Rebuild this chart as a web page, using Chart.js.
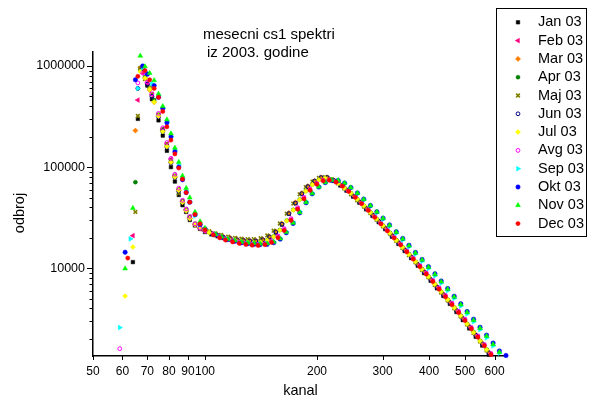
<!doctype html>
<html lang="sr">
  <head>
    <meta charset="utf-8">
    <title>mesecni cs1 spektri</title>
    <style>
      * {
        margin: 0;
        padding: 0;
      }
      body {
        background: #fff;
      }
      .chartBox {
        width: 589px;
        height: 405px;
      }
    </style>
  </head>
  <body>
    <div class="chartBox">
      <canvas id="myChart" width="589" height="405"></canvas>
    </div>
    <script src="https://cdn.jsdelivr.net/npm/chart.js/dist/chart.umd.min.js"></script>
    <script>
    // kanali (x): nizak deo je zajednicki, rep ima cetiri pomerene mreze
    const kanalNisko = [59,61,62,63,64,65,66,67,68,69,70,71,72,73,75,77,79,81,83,85,87,89,91,94,97,100];
    const kanalA = [104,108,112,117,122,127,132,137,143,149,155,161,168,175,182,189,197,205,213,222,
      231,240,250,260,271,282,293,305,318,331,344,358,373,388,404,420,437,455,474,493,513,534,556,579,602,627];
    const kanalA2 = [102.6,106.6,110.5,115.4,120.4,125.3,130.2,135.2,141.1,147.0,152.9,158.9,165.8,172.7,179.6,186.5,194.4,202.3,210.2,219.0,
      227.9,236.8,246.7,256.5,267.4,278.3,289.1,300.9,313.8,326.6,339.4,353.2,368.0,382.8,398.6,414.4,431.2,448.9,467.7,486.4,506.2,526.9,548.6,571.3,594.0,618.7];
    const kanalB = [105.4,109.5,113.5,118.6,123.6,128.7,133.8,138.8,144.9,151.0,157.1,163.2,170.3,177.4,184.5,191.6,199.7,207.8,215.9,225.0,
      234.1,243.2,253.4,263.5,274.7,285.8,297.0,309.1,322.3,335.5,348.6,362.8,378.0,393.2,409.5,425.7,442.9,461.1,480.4,499.7,519.9,541.2,563.5,586.8,610.1,635.5];
    const kanalC = [106.8,110.9,115.0,120.2,125.3,130.4,135.6,140.7,146.9,153.0,159.2,165.3,172.5,179.7,186.9,194.1,202.3,210.5,218.8,228.0,
      237.2,246.5,256.8,267.0,278.3,289.6,300.9,313.2,326.6,339.9,353.3,367.7,383.1,398.5,414.9,431.3,448.8,467.3,486.8,506.3,526.9,548.4,571.0,594.6,618.3,643.9];

    // odbroj po mesecima (null = nema tacke)
    const jan = [null,null,null,null,11500,null,300000,null,880000,null,640000,null,470000,null,290000,205000,145000,100000,72000,53000,42000,36000,30000,26500,24500,22800,
      21600,20700,19900,19200,18700,18400,18200,18200,18700,20000,22500,27000,34500,44000,54500,64000,72500,78500,78500,73000,
      65800,58500,51000,44400,38200,32900,28500,24300,20500,17400,14800,12600,10600,8950,7520,6330,5320,4440,3690,3070,
      2540,2100,1720,1400,null,null];
    const feb = [null,null,null,null,21000,null,460000,null,850000,null,680000,null,520000,null,320000,240000,170000,120000,82000,60000,46000,38000,32000,27000,24500,23200,
      21500,20200,19200,18400,17800,17400,17100,17000,17300,18400,20500,24200,30400,39100,49300,59500,68100,73300,74300,71100,
      65100,57900,50600,43700,37500,32100,27600,23700,20200,17200,14700,12500,10500,8880,7480,6310,5300,4430,3700,3080,
      2550,2110,1730,1410,null,null];
    const mar = [null,null,null,null,null,230000,null,960000,null,760000,null,580000,null,440000,320000,230000,160000,112000,80000,59000,45000,37000,31000,27000,25000,23500,
      22300,21300,20500,19800,19300,19000,18800,18800,19300,20600,23100,27700,35200,44800,55300,64800,73300,79300,79200,74000,
      66900,59700,52200,45600,39300,33900,29400,25100,21300,18100,15400,13100,11000,9300,7820,6590,5540,4630,3860,3220,
      2660,2200,1810,1480,null,null];
    const apr = [null,null,null,null,null,71000,null,920000,null,780000,null,600000,null,460000,330000,235000,165000,115000,82000,60000,46000,38000,32000,27500,25000,23600,
      22600,21400,20400,19600,19000,18500,18200,18000,18200,19000,20600,23900,29600,37800,47700,58000,67400,74800,77700,75300,
      69600,62600,55200,48100,41500,35700,30800,26400,22400,19000,16200,13800,11600,9820,8270,6960,5850,4900,4080,3400,
      2820,2340,1920,1570,null,null];
    const maj = [null,null,null,null,null,36000,320000,950000,null,740000,null,610000,530000,null,330000,230000,170000,115000,82000,55000,45000,38000,32000,27500,25500,24000,
      23200,22100,21300,20500,20000,19600,19400,19400,19800,21100,23500,27700,34600,43600,53800,63400,71700,78100,79700,75800,
      68900,61400,53900,47000,40700,35000,30200,25900,22000,18700,15900,13500,11400,9650,8130,6840,5750,4820,4020,3350,
      2780,2290,1890,1540,null,null];
    const jun = [null,null,null,null,null,null,600000,null,940000,null,660000,null,500000,null,315000,225000,158000,110000,79000,58000,45000,37000,31000,27000,24800,23400,
      22100,21100,20300,19600,19100,18800,18600,18600,19100,20400,22800,27200,34700,44100,54600,64200,72800,78800,78800,73600,
      66600,59400,51900,45300,39000,33600,29100,24800,21000,17900,15200,12950,10900,9200,7750,6530,5490,4590,3820,3180,
      2640,2180,1790,1460,null,null];
    const jul = [null,5300,null,null,16200,null,null,880000,null,760000,null,590000,null,440000,320000,225000,160000,112000,80000,59000,45000,37000,31000,27000,25000,23500,
      22500,21300,20300,19500,18900,18400,18100,17900,18100,18900,20500,23800,29400,37600,47500,57700,67100,74500,77500,75100,
      69300,62300,55000,48000,41400,35600,30700,26300,22300,18900,16100,13700,11600,9780,8240,6940,5840,4890,4070,3390,
      2810,2320,1910,1560,null,null];
    const avg = [1600,null,null,null,null,null,680000,null,850000,null,690000,null,530000,null,340000,245000,175000,122000,85000,62000,47000,38500,32500,27500,25000,23500,
      21800,20500,19500,18700,18100,17700,17400,17300,17600,18700,20800,24600,30900,39700,50200,60300,68900,74000,74800,71400,
      65400,58200,50900,44000,37800,32400,27900,23900,20400,17400,14840,12640,10640,8970,7570,6390,5370,4490,3750,3120,
      2580,2140,1750,1430,null,null];
    const sep = [2590,null,null,19500,null,null,600000,null,960000,null,850000,null,670000,null,510000,380000,280000,200000,147000,105000,78000,58000,45000,33000,27000,24500,
      21350,20160,19260,18530,17960,17600,17370,17230,17400,18160,19810,23080,28660,36430,45610,55460,64220,70620,74020,73260,
      68790,61970,54560,47280,40770,35290,30410,25960,22170,19010,16260,13800,11730,9940,8430,7130,6010,5040,4230,3540,
      2960,2470,2050,1710,1450,null];
    const okt = [null,14400,null,null,null,730000,null,null,1000000,null,830000,null,null,640000,490000,380000,275000,200000,142000,100000,75000,56000,45000,34000,27000,24500,
      21460,20190,19200,18430,17870,17500,17270,17130,17230,17900,19380,22400,27730,35300,44390,54380,63410,70250,74090,73660,
      69490,62840,55530,48280,41770,36260,31320,26790,22940,19720,16870,14360,12230,10380,8810,7470,6300,5290,4450,3730,
      3130,2610,2180,1820,1520,1370];
    const nov = [null,9930,null,null,39300,null,null,1260000,null,990000,null,850000,null,720000,530000,400000,295000,215000,155000,112000,82000,62000,50000,36000,29000,25000,
      21660,20390,19460,18730,18160,17800,17570,17430,17530,18190,19680,22700,28030,35670,44860,54880,63900,70740,74460,73890,
      69560,62770,55360,48090,41570,36060,31120,26590,22740,19520,16700,14210,12080,10250,8700,7360,6210,5220,4380,3670,
      3070,2560,2130,1770,1480,null];
    const dec = [null,null,12600,null,null,null,790000,null,null,900000,null,730000,null,600000,490000,355000,250000,185000,135000,98000,76000,56000,45000,34000,27500,24000,
      21300,20000,19000,18200,17600,17200,16900,16800,17100,18000,20000,23600,29700,38300,48500,58900,67700,73100,74200,71000,
      64700,57500,50300,43500,37300,31900,27400,23400,19900,17000,14500,12300,10350,8740,7370,6200,5210,4360,3640,3040,
      2520,2080,1710,1400,null,null];

    const meseci = ['Jan 03','Feb 03','Mar 03','Apr 03','Maj 03','Jun 03','Jul 03','Avg 03','Sep 03','Okt 03','Nov 03','Dec 03'];
    const serije = [jan, feb, mar, apr, maj, jun, jul, avg, sep, okt, nov, dec];
    const mreze = [kanalA, kanalB, kanalA, kanalA2, kanalA2, kanalA, kanalA2, kanalB, kanalC, kanalC, kanalC, kanalB];

    const xTicks = [50, 60, 70, 80, 90, 100, 200, 300, 400, 500, 600];
    const yTicks = [2000,3000,4000,5000,6000,7000,8000,9000,10000,20000,30000,40000,50000,60000,70000,80000,90000,
      100000,200000,300000,400000,500000,600000,700000,800000,900000,1000000];
    const yLabele = [10000, 100000, 1000000];

    // markeri
    const stilovi = [
      { pointStyle: 'rect', pointRadius: 2.5, pointRotation: 0, c: '#000000', fill: true, bw: 0.5 },
      { pointStyle: 'triangle', pointRadius: 2.8, pointRotation: -90, c: '#ff0080', fill: true, bw: 0.5 },
      { pointStyle: 'rectRot', pointRadius: 2.6, pointRotation: 0, c: '#ff8000', fill: true, bw: 0.5 },
      { pointStyle: 'circle', pointRadius: 2, pointRotation: 0, c: '#008000', fill: true, bw: 0.5 },
      { pointStyle: 'crossRot', pointRadius: 2.6, pointRotation: 0, c: '#808000', fill: true, bw: 1.6 },
      { pointStyle: 'circle', pointRadius: 1.9, pointRotation: 0, c: '#000080', fill: false, bw: 1 },
      { pointStyle: 'rectRot', pointRadius: 2.5, pointRotation: 0, c: '#ffff00', fill: true, bw: 0.5 },
      { pointStyle: 'circle', pointRadius: 1.9, pointRotation: 0, c: '#ff00ff', fill: false, bw: 1 },
      { pointStyle: 'triangle', pointRadius: 2.8, pointRotation: 90, c: '#00ffff', fill: true, bw: 0.5 },
      { pointStyle: 'circle', pointRadius: 2.2, pointRotation: 0, c: '#0000ff', fill: true, bw: 0.5 },
      { pointStyle: 'triangle', pointRadius: 2.8, pointRotation: 0, c: '#00ff00', fill: true, bw: 0.5 },
      { pointStyle: 'circle', pointRadius: 2.1, pointRotation: 0, c: '#ff0000', fill: true, bw: 0.5 }
    ];

    const FONT = "'Liberation Sans', Arial, sans-serif";

    const datasets = serije.map((vals, i) => {
      const s = stilovi[i];
      const xs = kanalNisko.concat(mreze[i]);
      return {
        label: meseci[i],
        data: xs.map((x, j) => ({ x: x, y: vals[j] })).filter(p => p.y !== null),
        order: 11 - i,
        pointStyle: s.pointStyle,
        pointRadius: s.pointRadius,
        pointRotation: s.pointRotation,
        pointBackgroundColor: s.fill ? s.c : 'rgba(0,0,0,0)',
        pointBorderColor: s.c,
        pointBorderWidth: s.bw,
        clip: 3
      };
    });

    // tick markice, naslovi i legenda
    const dekor = {
      id: 'dekor',
      afterDraw: (chart) => {
        const { ctx, chartArea: { left, bottom }, scales: { x, y } } = chart;
        ctx.save();
        ctx.strokeStyle = '#000';
        ctx.lineWidth = 1;
        ctx.beginPath();
        xTicks.forEach(v => {
          const px = Math.round(x.getPixelForValue(v)) + 0.5;
          ctx.moveTo(px, bottom);
          ctx.lineTo(px, bottom + 4);
        });
        yTicks.forEach(v => {
          const py = Math.round(y.getPixelForValue(v)) + 0.5;
          const len = yLabele.includes(v) ? 6 : 3.5;
          ctx.moveTo(left - len, py);
          ctx.lineTo(left, py);
        });
        ctx.stroke();

        // naslov
        ctx.fillStyle = '#000';
        ctx.textBaseline = 'middle';
        ctx.textAlign = 'left';
        ctx.font = '15px ' + FONT;
        ctx.fillText('mesecni cs1 spektri', 203, 35);
        ctx.fillText('iz 2003. godine', 207, 53);

        // nazivi osa
        ctx.font = '14.5px ' + FONT;
        ctx.textAlign = 'center';
        ctx.fillText('kanal', 300.5, 391);
        ctx.save();
        ctx.translate(20, 213);
        ctx.rotate(-Math.PI / 2);
        ctx.fillText('odbroj', 0, 0);
        ctx.restore();

        // legenda
        ctx.lineWidth = 1;
        ctx.strokeStyle = '#000';
        ctx.strokeRect(496.5, 8.5, 90, 228);
        ctx.font = '14.5px ' + FONT;
        ctx.textAlign = 'left';
        meseci.forEach((m, i) => {
          const s = stilovi[i];
          const cy = 22.3 + i * 18.3;
          ctx.fillStyle = s.fill ? s.c : 'rgba(0,0,0,0)';
          ctx.strokeStyle = s.c;
          ctx.lineWidth = s.bw;
          Chart.helpers.drawPoint(ctx, {
            pointStyle: s.pointStyle,
            rotation: s.pointRotation,
            radius: s.pointRadius,
            borderWidth: s.bw
          }, 518, cy);
          ctx.fillStyle = '#000';
          ctx.fillText(m, 538, cy);
        });
        ctx.restore();
      }
    };

    const config = {
      type: 'scatter',
      data: { datasets: datasets },
      options: {
        responsive: false,
        animation: false,
        events: [],
        layout: { padding: { left: 0, top: 52, right: 82, bottom: 0 } },
        plugins: {
          legend: { display: false },
          tooltip: { enabled: false }
        },
        scales: {
          x: {
            type: 'logarithmic',
            position: 'bottom',
            min: 50,
            max: 648,
            afterFit: (s) => { s.height = 49; },
            afterBuildTicks: (s) => { s.ticks = xTicks.map(v => ({ value: v })); },
            grid: { display: false, drawTicks: false },
            border: { display: true, color: '#000', width: 1.5 },
            ticks: {
              autoSkip: false,
              maxRotation: 0,
              padding: 8,
              color: '#000',
              font: { family: FONT, size: 12 },
              callback: (v) => String(v)
            }
          },
          y: {
            type: 'logarithmic',
            position: 'left',
            min: 1355,
            max: 1375000,
            afterFit: (s) => { s.width = 93; },
            afterBuildTicks: (s) => { s.ticks = yTicks.map(v => ({ value: v })); },
            grid: { display: false, drawTicks: false },
            border: { display: true, color: '#000', width: 1.5 },
            ticks: {
              autoSkip: false,
              padding: 8,
              color: '#000',
              font: { family: FONT, size: 12.5 },
              callback: (v) => yLabele.includes(v) ? String(v) : ''
            }
          }
        }
      },
      plugins: [dekor]
    };

    const myChart = new Chart(document.getElementById('myChart'), config);
    </script>
  </body>
</html>
